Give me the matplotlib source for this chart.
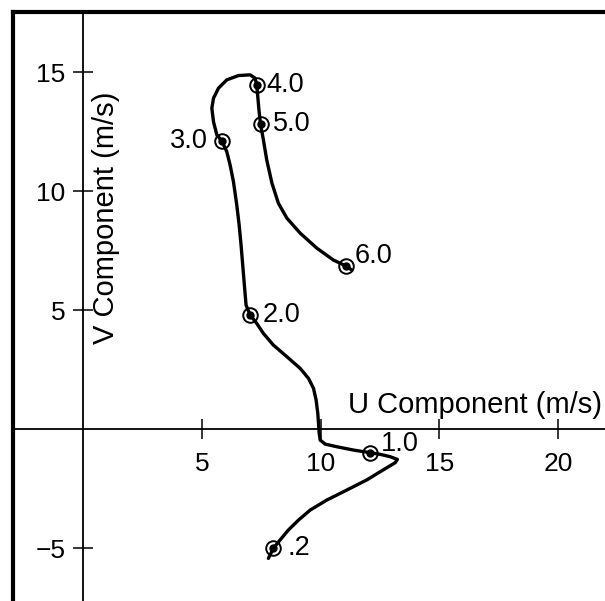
import matplotlib
matplotlib.use("Agg")
import matplotlib.pyplot as plt

# hodograph: wind trace (u, v) in m/s, heights in km
curve_u = [7.80, 8.01, 8.29, 8.64, 9.07, 9.56, 10.26, 11.10, 11.95, 12.64,
           13.14, 13.23, 12.93, 12.51, 12.08, 11.38, 10.68, 10.19, 9.98, 9.94,
           9.92, 9.88, 9.81, 9.70, 9.49, 9.14, 8.58, 8.01, 7.59, 7.31,
           7.03, 6.86, 6.79, 6.72, 6.65, 6.57, 6.47, 6.33, 6.19, 6.05,
           5.84, 5.63, 5.49, 5.42, 5.49, 5.70, 6.05, 6.54, 7.03, 7.24,
           7.31, 7.36, 7.41, 7.47, 7.59, 7.73, 7.95, 8.22, 8.58, 9.14,
           9.84, 10.54, 11.07, 11.31]
curve_v = [-5.42, -5.00, -4.65, -4.23, -3.81, -3.39, -2.97, -2.55, -2.12, -1.70,
           -1.40, -1.26, -1.15, -1.05, -0.98, -0.87, -0.73, -0.62, -0.45, -0.17,
           0.11, 0.67, 1.23, 1.72, 2.14, 2.56, 3.05, 3.54, 4.03, 4.45,
           4.81, 5.22, 6.06, 6.90, 7.74, 8.58, 9.42, 10.40, 11.10, 11.66,
           12.11, 12.37, 12.92, 13.49, 13.91, 14.33, 14.68, 14.86, 14.89, 14.75,
           14.47, 13.91, 13.34, 12.82, 12.16, 11.32, 10.34, 9.50, 8.87, 8.24,
           7.61, 7.11, 6.86, 6.69]

level_u = [8.01, 12.08, 7.03, 5.84, 7.31, 7.47, 11.07]
level_v = [-5.00, -0.98, 4.81, 12.11, 14.47, 12.82, 6.86]
level_labels = [".2", "1.0", "2.0", "3.0", "4.0", "5.0", "6.0"]

x_ticks = [5, 10, 15, 20]
y_ticks = [-5, 5, 10, 15]

plt.rcParams["font.family"] = ["Liberation Sans", "DejaVu Sans"]

fig = plt.figure(figsize=(6.05, 6.01), dpi=100)
ax = fig.add_axes([13 / 605, 0.0, 1 - 13 / 605, 589 / 601])
ax.set_xlim(-2.95, 21.97)
ax.set_ylim(-7.21, 17.53)

# axes crossing at the origin
ax.spines["left"].set_position(("data", 0))
ax.spines["bottom"].set_position(("data", 0))
ax.spines["left"].set_linewidth(1.3)
ax.spines["bottom"].set_linewidth(1.3)
ax.spines["top"].set_visible(False)
ax.spines["right"].set_visible(False)

# heavy frame along top and left
ax.plot([0, 1], [1, 1], transform=ax.transAxes, color="black", lw=3, clip_on=False)
ax.plot([0, 0], [0, 1], transform=ax.transAxes, color="black", lw=3, clip_on=False)

ax.set_xticks(x_ticks)
ax.set_yticks(y_ticks)
ax.tick_params(direction="inout", length=15, width=1.1, labelsize=19)
ax.tick_params(axis="x", pad=9)
ax.tick_params(axis="y", pad=5)

ax.plot(curve_u, curve_v, color="black", lw=2.4, solid_joinstyle="round",
        solid_capstyle="round")
ax.plot(level_u, level_v, "o", ms=10.5, mfc="none", mec="black", mew=1.4)
ax.plot(level_u, level_v, "o", ms=5, color="black")

# label offsets in points
offsets = [(10, 0), (8, 6), (9, 0), (-10, 0), (7, 0), (9, 0), (6, 7)]
for u, v, lab, (dx, dy) in zip(level_u, level_v, level_labels, offsets):
    ax.annotate(lab, (u, v), xytext=(dx, dy), textcoords="offset points",
                ha="left" if dx > 0 else "right", va="center", fontsize=19.5)

ax.text(21.85, 0.68, "U Component (m/s)", ha="right", va="baseline", fontsize=21)
ax.text(0.97, 8.9, "V Component (m/s)", rotation=90, ha="center", va="center",
        fontsize=21)

fig.savefig("out.png", dpi=100)
